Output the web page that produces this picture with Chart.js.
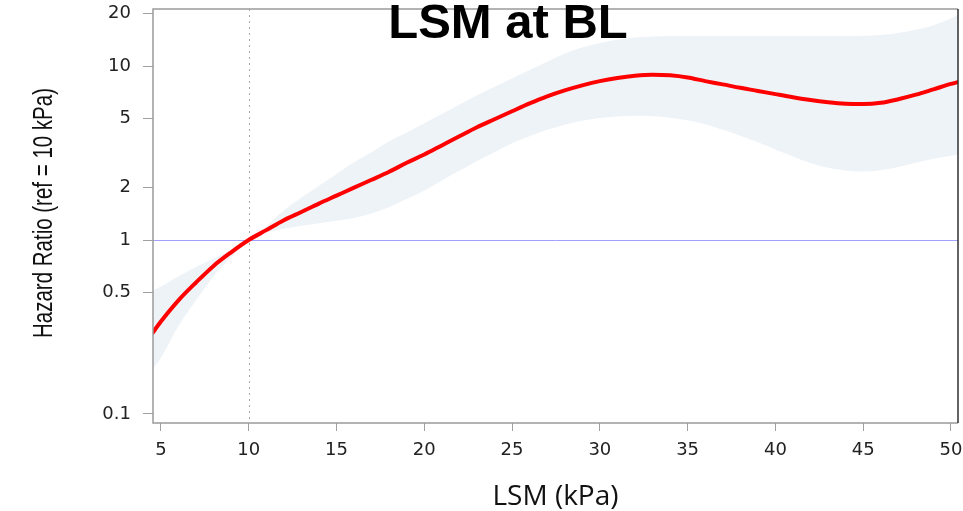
<!DOCTYPE html>
<html>
<head>
<meta charset="utf-8">
<script src="https://cdn.jsdelivr.net/npm/chart.js@4/dist/chart.umd.min.js"></script>
<style>
  html, body { margin: 0; padding: 0; background: #ffffff; }
  #wrap { width: 963px; height: 511px; position: relative; }
</style>
</head>
<body>
<div id="wrap"><canvas id="chart" width="963" height="511"></canvas></div>
<script>
// LSM (kPa) grid of the spline fit
const lsm = [4.5, 5, 6, 7, 8, 9, 10, 11, 12, 13, 14, 15, 16, 17, 18, 19, 20, 21, 22, 23, 24, 25,
  26, 27, 28, 29, 30, 31, 32, 33, 34, 35, 36, 37, 38, 39, 40, 41, 42, 43, 44, 45, 46, 47, 48, 49, 50, 50.5];

// Hazard ratio relative to LSM = 10 kPa
const hazardRatio = [0.29, 0.34, 0.45, 0.57, 0.71, 0.85, 1.0, 1.14, 1.30, 1.45, 1.62, 1.80, 2.00, 2.22, 2.47, 2.78, 3.10, 3.50,
  3.95, 4.45, 4.95, 5.50, 6.10, 6.70, 7.25, 7.75, 8.20, 8.55, 8.80, 8.92, 8.85, 8.60, 8.20, 7.85, 7.50, 7.20, 6.90,
  6.62, 6.38, 6.20, 6.08, 6.05, 6.15, 6.45, 6.85, 7.35, 7.90, 8.15];

// 95% confidence band
const ciLower = [0.18, 0.21, 0.32, 0.45, 0.62, 0.80, 1.0, 1.10, 1.16, 1.21, 1.25, 1.29, 1.34, 1.42, 1.55, 1.72, 1.92, 2.20,
  2.50, 2.85, 3.20, 3.60, 3.95, 4.30, 4.60, 4.85, 5.03, 5.14, 5.18, 5.15, 5.05, 4.88, 4.63, 4.30, 3.98, 3.65, 3.32,
  3.02, 2.77, 2.60, 2.51, 2.48, 2.52, 2.63, 2.78, 2.93, 3.05, 3.10];
const ciUpper = [0.51, 0.54, 0.62, 0.70, 0.78, 0.88, 1.0, 1.20, 1.48, 1.75, 2.05, 2.40, 2.80, 3.20, 3.70, 4.15, 4.70, 5.30,
  6.00, 6.80, 7.60, 8.50, 9.50, 10.6, 11.8, 12.8, 13.6, 14.2, 14.6, 14.8, 14.9, 14.9, 14.9, 14.9, 14.9, 14.9, 14.9,
  14.9, 14.9, 14.9, 14.9, 14.95, 15.1, 15.5, 16.2, 17.2, 18.8, 19.8];

// Axis ticks
const xTickValues = [5, 10, 15, 20, 25, 30, 35, 40, 45, 50];
const yTickValues = [0.1, 0.5, 1, 2, 5, 10, 20];

// Reference lines
const refLSM = 10;
const refHR = 1;

const toPoints = (ys) => lsm.map((x, i) => ({ x: x, y: ys[i] }));

const annotations = {
  id: 'annotations',
  beforeDatasetsDraw(chart) {
    const { ctx, chartArea: a, scales } = chart;
    ctx.save();
    // horizontal reference line at HR = 1
    const yRef = Math.round(scales.y.getPixelForValue(refHR)) + 0.5;
    ctx.strokeStyle = '#a0a0ff';
    ctx.lineWidth = 1;
    ctx.beginPath();
    ctx.moveTo(a.left, yRef);
    ctx.lineTo(a.right, yRef);
    ctx.stroke();
    // vertical dotted line at the reference LSM
    const xRef = Math.round(scales.x.getPixelForValue(refLSM)) + 0.5;
    ctx.strokeStyle = '#a8a8a8';
    ctx.setLineDash([2, 4]);
    ctx.beginPath();
    ctx.moveTo(xRef, a.top);
    ctx.lineTo(xRef, a.bottom);
    ctx.stroke();
    ctx.restore();
  },
  afterDraw(chart) {
    const { ctx, chartArea: a } = chart;
    ctx.save();
    // plot frame
    ctx.lineWidth = 1.5;
    ctx.strokeStyle = '#9a9a9a';
    ctx.beginPath();
    ctx.moveTo(a.right, a.top);
    ctx.lineTo(a.left, a.top);
    ctx.lineTo(a.left, a.bottom);
    ctx.lineTo(a.right, a.bottom);
    ctx.stroke();
    ctx.strokeStyle = '#303030';
    ctx.beginPath();
    ctx.moveTo(a.right, a.top);
    ctx.lineTo(a.right, a.bottom);
    ctx.stroke();

    // main title
    ctx.fillStyle = '#000000';
    ctx.font = 'bold 49px "Liberation Sans", Arial, sans-serif';
    ctx.textAlign = 'center';
    ctx.textBaseline = 'alphabetic';
    ctx.fillText('LSM at BL', 508, 38);

    // x axis title
    ctx.fillStyle = '#111111';
    ctx.font = '28px "Open Sans", sans-serif';
    ctx.fillText('LSM (kPa)', (a.left + a.right) / 2, 505);

    // y axis title, condensed
    const yTitle = 'Hazard Ratio (ref = 10 kPa)';
    ctx.font = '27px "Liberation Sans", Arial, sans-serif';
    const w = ctx.measureText(yTitle).width;
    ctx.translate(52, 213);
    ctx.rotate(-Math.PI / 2);
    ctx.scale(250 / w, 1);
    ctx.textBaseline = 'alphabetic';
    ctx.fillText(yTitle, 0, 0);
    ctx.restore();
  }
};

new Chart(document.getElementById('chart'), {
  type: 'line',
  data: {
    datasets: [
      {
        label: 'Hazard ratio',
        data: toPoints(hazardRatio),
        borderColor: '#ff0000',
        borderWidth: 4,
        pointRadius: 0,
        fill: false,
        cubicInterpolationMode: 'monotone'
      },
      {
        label: 'Lower 95% CI',
        data: toPoints(ciLower),
        borderWidth: 0,
        borderColor: 'rgba(0,0,0,0)',
        pointRadius: 0,
        fill: false,
        cubicInterpolationMode: 'monotone'
      },
      {
        label: 'Upper 95% CI',
        data: toPoints(ciUpper),
        borderWidth: 0,
        borderColor: 'rgba(0,0,0,0)',
        backgroundColor: '#eef3f8',
        pointRadius: 0,
        fill: '-1',
        cubicInterpolationMode: 'monotone'
      }
    ]
  },
  options: {
    responsive: false,
    animation: false,
    events: [],
    layout: { padding: { top: 9, right: 5, left: 0, bottom: 0 } },
    plugins: {
      legend: { display: false },
      tooltip: { enabled: false },
      title: { display: false },
      filler: { drawTime: 'beforeDatasetsDraw' }
    },
    scales: {
      x: {
        type: 'linear',
        min: 4.55,
        max: 50.4,
        afterFit: (s) => { s.height = 88; s.paddingLeft = 0; s.paddingRight = 0; },
        afterBuildTicks: (s) => { s.ticks = xTickValues.map(v => ({ value: v })); },
        border: { display: false },
        grid: { drawOnChartArea: false, drawTicks: true, tickLength: 8, color: '#a0a0a0' },
        ticks: {
          autoSkip: false,
          maxRotation: 0,
          padding: 9,
          color: '#222222',
          font: { family: '"DejaVu Sans", Verdana, sans-serif', size: 18 },
          callback: (v) => String(v)
        }
      },
      y: {
        type: 'logarithmic',
        min: 0.0887,
        max: 21.3,
        afterFit: (s) => { s.width = 153; s.paddingTop = 0; s.paddingBottom = 0; },
        afterBuildTicks: (s) => { s.ticks = yTickValues.map(v => ({ value: v })); },
        border: { display: false },
        grid: { drawOnChartArea: false, drawTicks: true, tickLength: 10, color: '#a0a0a0' },
        ticks: {
          autoSkip: false,
          padding: 12,
          color: '#222222',
          font: { family: '"DejaVu Sans", Verdana, sans-serif', size: 18 },
          callback: (v) => String(v)
        }
      }
    }
  },
  plugins: [annotations]
});
</script>
</body>
</html>
